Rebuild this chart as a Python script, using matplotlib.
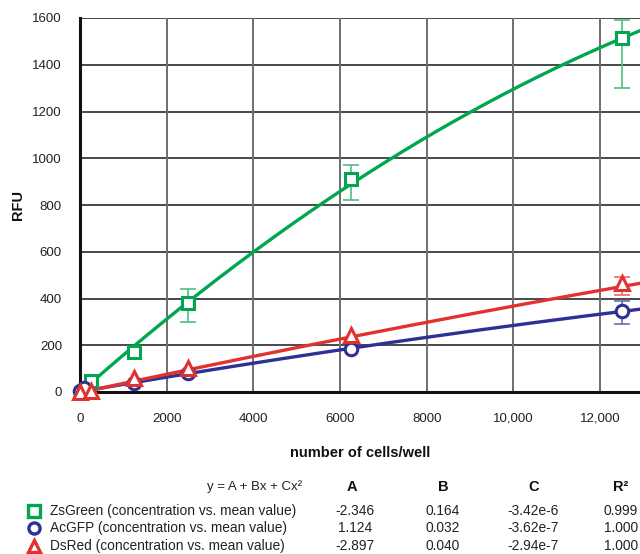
import numpy as np
import matplotlib
matplotlib.use("Agg")
import matplotlib.pyplot as plt
from matplotlib.lines import Line2D

plt.rcParams['font.family'] = ['Liberation Sans', 'DejaVu Sans']

# ---- data ----
names = ["ZsGreen", "AcGFP", "DsRed"]
label_suffix = " (concentration vs. mean value)"

zs_x = [250, 1250, 2500, 6250, 12500]
zs_y = [48, 172, 380, 910, 1513]
zs_err_lo = [0, 0, 80, 89, 211]
zs_err_hi = [0, 0, 60, 62, 80]

ac_x = [0, 90, 1250, 2500, 6250, 12500]
ac_y = [5, 18, 40, 80, 186, 346]
ac_err_lo = [0, 0, 0, 0, 0, 55]
ac_err_hi = [0, 0, 0, 0, 0, 45]

ds_x = [0, 250, 1250, 2500, 6250, 12500]
ds_y = [0, 6, 58, 104, 244, 465]
ds_err_lo = [0, 0, 0, 0, 0, 50]
ds_err_hi = [0, 0, 0, 0, 0, 26]

coef_A = [-2.346, 1.124, -2.897]
coef_B = [0.164, 0.032, 0.040]
coef_C = [-3.42e-6, -3.62e-7, -2.94e-7]
r2 = ["0.999", "1.000", "1.000"]
A_txt = ["-2.346", "1.124", "-2.897"]
B_txt = ["0.164", "0.032", "0.040"]
C_txt = ["-3.42e-6", "-3.62e-7", "-2.94e-7"]
fit_start = [250, 0, 0]

xticks = [0, 2000, 4000, 6000, 8000, 10000, 12000]
xtick_labels = ["0", "2000", "4000", "6000", "8000", "10,000", "12,000"]
yticks = [0, 200, 400, 600, 800, 1000, 1200, 1400, 1600]

colors = ["#00a650", "#2e3192", "#e2322f"]
err_colors = ["#4dbf7f", "#6a6cb4", "#ea6b67"]
markers = ["s", "o", "^"]

fig = plt.figure(figsize=(6.4, 5.54), dpi=100)
ax = fig.add_axes([80/640, 1 - 392/554, 1 - 80/640, (392 - 18)/554])
XMAX = 12920
ax.set_xlim(0, XMAX)
ax.set_ylim(0, 1600)

# grid
for yt in yticks[1:]:
    ax.axhline(yt, color="#2a2a2a", lw=1.2, zorder=1)
for xt in xticks[1:]:
    ax.axvline(xt, color="#6e6e6e", lw=1.4, zorder=1)

for s in ["top", "right"]:
    ax.spines[s].set_visible(False)
for s in ["left", "bottom"]:
    ax.spines[s].set_linewidth(2.2)
    ax.spines[s].set_color("#111111")
    ax.spines[s].set_zorder(2)

series = [
    (zs_x, zs_y, zs_err_lo, zs_err_hi),
    (ac_x, ac_y, ac_err_lo, ac_err_hi),
    (ds_x, ds_y, ds_err_lo, ds_err_hi),
]
for i, (xs, ys, elo, ehi) in enumerate(series):
    xf = np.linspace(fit_start[i], XMAX, 300)
    yf = coef_A[i] + coef_B[i] * xf + coef_C[i] * xf ** 2
    ax.plot(xf, yf, color=colors[i], lw=2.4, zorder=3, clip_on=True)
    xs_a = np.array(xs); ys_a = np.array(ys)
    lo = np.array(elo); hi = np.array(ehi)
    m = (lo + hi) > 0
    ax.errorbar(xs_a[m], ys_a[m], yerr=[lo[m], hi[m]], fmt="none",
                ecolor=err_colors[i], elinewidth=1.2, capsize=6, capthick=1.2,
                zorder=4, clip_on=False)
    ax.plot(xs, ys, linestyle="none", marker=markers[i], ms=9 if i != 2 else 10,
            mfc="white", mec=colors[i], mew=2.2, zorder=5, clip_on=False)

ax.set_xticks(xticks)
ax.set_xticklabels(xtick_labels)
ax.set_yticks(yticks)
ax.tick_params(axis="both", length=0, labelsize=9.5, colors="#222222")
ax.tick_params(axis="x", pad=15)
ax.tick_params(axis="y", pad=13)

fig.text(360/640, 1 - 453/554, "number of cells/well", ha="center", va="center",
         fontsize=10.5, fontweight="bold", color="#111111")
fig.text(18/640, 1 - 205/554, "RFU", ha="center", va="center", rotation=90,
         fontsize=10.5, fontweight="bold", color="#111111")

# table
def fy(p):
    return 1 - p / 554

head_y = 487
fig.text(302/640, fy(head_y), "y = A + Bx + Cx²", ha="right", va="center",
         fontsize=9.5, color="#222222")
for xpix, t in [(352, "A"), (443, "B"), (534, "C"), (621, "R²")]:
    fig.text(xpix/640, fy(head_y), t, ha="center", va="center", fontsize=10.5,
             fontweight="bold", color="#111111")

row_y = [511, 528, 546]
for i in range(3):
    yy = fy(row_y[i])
    fig.add_artist(Line2D([34/640], [yy], marker=markers[i], ms=8 if i != 2 else 9,
                          mfc="white", mec=colors[i], mew=2.4, linestyle="none",
                          transform=fig.transFigure))
    fig.text(50/640, yy, names[i] + label_suffix, ha="left", va="center",
             fontsize=9.9, color="#222222")
    fig.text(355/640, yy, A_txt[i], ha="center", va="center", fontsize=9.9, color="#222222")
    fig.text(443/640, yy, B_txt[i], ha="center", va="center", fontsize=9.9, color="#222222")
    fig.text(533/640, yy, C_txt[i], ha="center", va="center", fontsize=9.9, color="#222222")
    fig.text(621/640, yy, r2[i], ha="center", va="center", fontsize=9.9, color="#222222")

fig.savefig("out.png", dpi=100)
